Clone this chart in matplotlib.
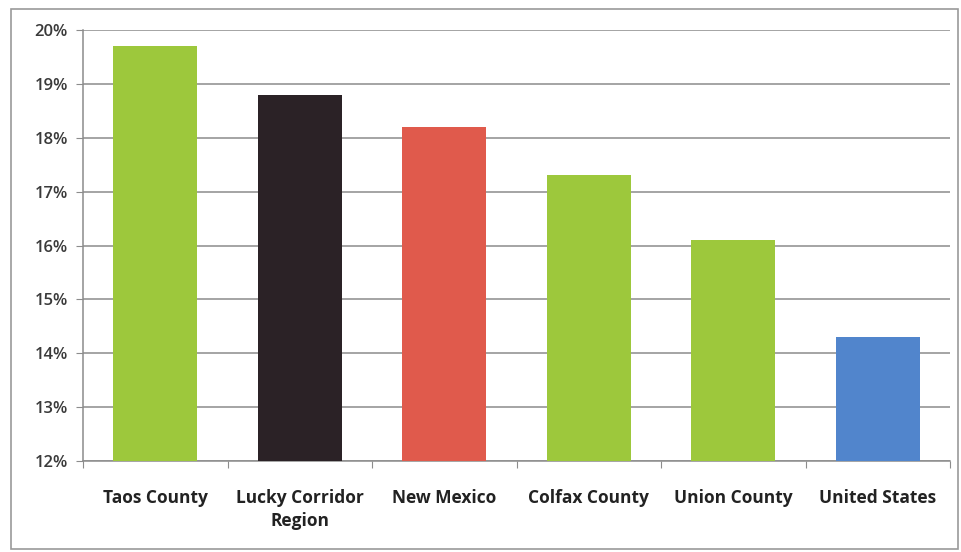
import matplotlib.pyplot as plt
from matplotlib.patches import Rectangle
import numpy as np

categories = ["Taos County", "Lucky Corridor\nRegion", "New Mexico",
              "Colfax County", "Union County", "United States"]
values = [19.7, 18.8, 18.2, 17.3, 16.1, 14.3]
colors = ["#9dc83c", "#2b2226", "#e05a4c", "#9dc83c", "#9dc83c", "#5185cc"]
yticks = [12, 13, 14, 15, 16, 17, 18, 19, 20]

fig = plt.figure(figsize=(9.61, 5.52), dpi=100)
fig.patches.append(Rectangle((11 / 961, 3 / 552), 947 / 961, 540 / 552,
                             transform=fig.transFigure, fill=False,
                             edgecolor="#9a9a9a", linewidth=1.2))
ax = fig.add_axes([83 / 961, 1 - 461 / 552, 867 / 961, 431 / 552])

x = np.arange(len(categories))
ax.bar(x, values, width=0.58, color=colors, zorder=3)

ax.set_xlim(-0.5, len(categories) - 0.5)
ax.set_ylim(12, 20)
ax.set_yticks(yticks)
ax.set_yticklabels([f"{t}%" for t in yticks], fontsize=12, fontweight="semibold",
                   family=["Open Sans", "DejaVu Sans"], color="#3a3a3a")
ax.yaxis.grid(True, color="#8c8c8c", linewidth=1.1, zorder=0)

ax.set_xticks(np.arange(len(categories) + 1) - 0.5)
ax.set_xticklabels([])
ax.set_xticks(x, minor=True)
ax.set_xticklabels(categories, minor=True, fontsize=12.5, fontweight="bold",
                   family=["Open Sans", "DejaVu Sans"], color="#222222",
                   linespacing=1.35)
ax.tick_params(axis="x", which="major", length=5, color="#8c8c8c")
ax.tick_params(axis="x", which="minor", length=0, pad=20)
ax.tick_params(axis="y", length=5, color="#8c8c8c", pad=6)

for s in ["top", "right"]:
    ax.spines[s].set_visible(False)
for s in ["left", "bottom"]:
    ax.spines[s].set_color("#8c8c8c")
    ax.spines[s].set_linewidth(1.1)

fig.savefig("out.png", dpi=100)
